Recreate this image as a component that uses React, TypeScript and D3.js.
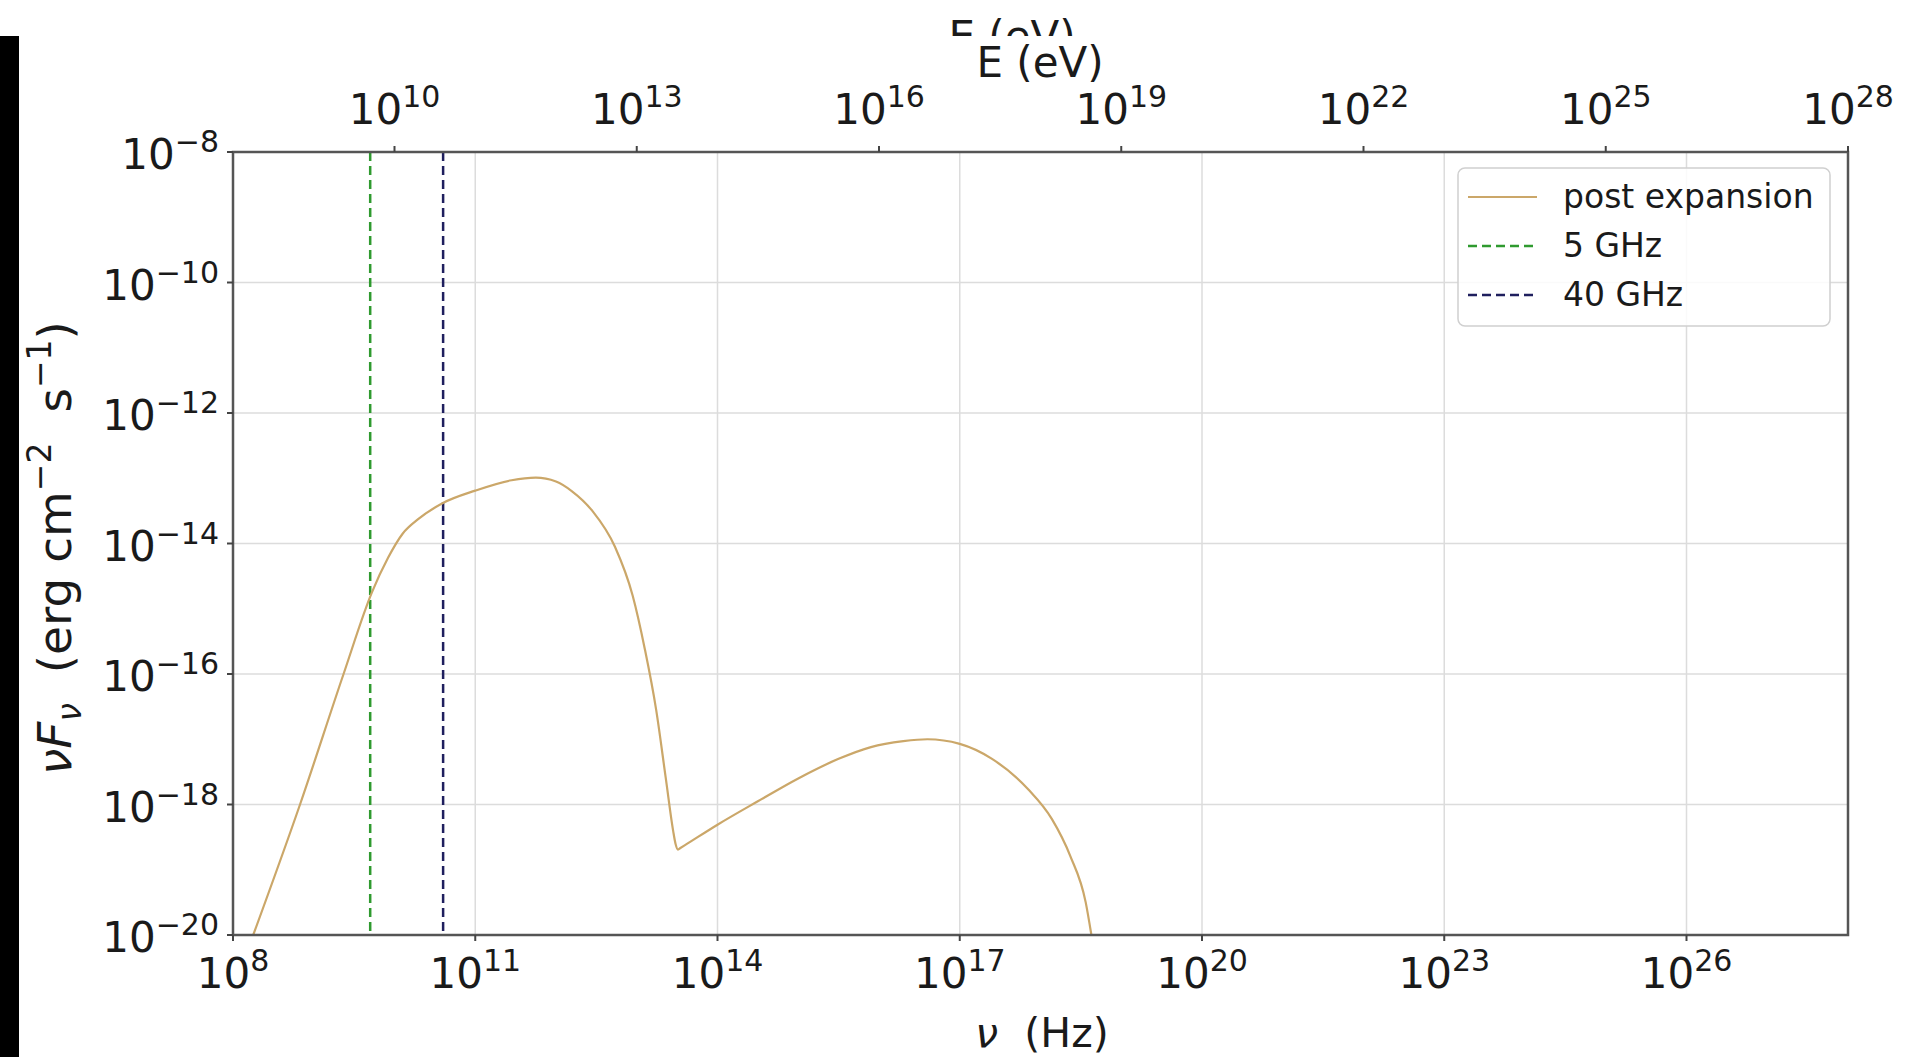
import React from "react";
import * as d3 from "d3";

// Frequency (Hz) and nuF_nu (erg cm^-2 s^-1)
const nuHz = [
  1.78e8, 6.76e8, 2.34e9, 5.25e9, 8.32e9, 1.26e10, 2.0e10, 3.98e10, 1.0e11,
  2.82e11, 5.62e11, 1.0e12, 1.58e12, 2.82e12, 5.37e12, 8.91e12, 1.26e13,
  1.74e13, 2.29e13, 2.82e13, 3.02e13, 3.24e13, 3.47e13, 4.0e13, 1.0e14,
  3.16e14, 1.0e15, 3.16e15, 7.94e15, 2.0e16, 3.98e16, 1.0e17, 2.51e17,
  7.08e17, 1.38e18, 2.34e18, 3.63e18, 4.27e18,
];
const nuFnu = [
  1.0e-20, 1.0e-18, 1.0e-16, 1.78e-15, 6.03e-15, 1.41e-14, 2.4e-14, 4.17e-14,
  6.46e-14, 9.33e-14, 1.02e-13, 8.91e-14, 6.31e-14, 3.16e-14, 8.91e-15,
  1.58e-15, 2.4e-16, 2.82e-17, 2.51e-18, 3.98e-19, 2.51e-19, 2.04e-19,
  2.15e-19, 2.4e-19, 4.9e-19, 1.12e-18, 2.51e-18, 5.01e-18, 7.59e-18,
  9.33e-18, 1.0e-17, 8.51e-18, 5.01e-18, 1.7e-18, 6.03e-19, 1.62e-19,
  3.16e-20, 1.0e-20,
];
const markerLines = [
  { label: "5 GHz", nu: 5e9, color: "#2f9a2f" },
  { label: "40 GHz", nu: 4e10, color: "#1f1f5e" },
];
const bottomTickExp = [8, 11, 14, 17, 20, 23, 26];
const topTickExp = [10, 13, 16, 19, 22, 25, 28];
const yTickExp = [-8, -10, -12, -14, -16, -18, -20];
const curveLabel = "post expansion";
const curveColor = "#cba769";

const W = 1905;
const H = 1057;
const L = 233, R = 1848, T = 152, B = 935;

const x = d3.scaleLog().domain([1e8, 1e28]).range([L, R]);
const y = d3.scaleLog().domain([1e-20, 1e-8]).range([B, T]);

const FONT = "'DejaVu Sans', sans-serif";
const TXT = "#1a1a1a";

function Pow({ exp, ...props }: any) {
  const s = exp < 0 ? "\u2212" + Math.abs(exp) : String(exp);
  return (
    <text {...props}>
      10
      <tspan fontSize={30} dy={-17}>{s}</tspan>
    </text>
  );
}

export default function App() {
  const pts = nuHz.map((n, i) => [n, nuFnu[i]] as [number, number]);
  const line = d3
    .line<[number, number]>()
    .x((d) => x(d[0]))
    .y((d) => y(d[1]))
    .curve(d3.curveMonotoneX);

  return (
    <svg
      width={W}
      height={H}
      style={{ position: "fixed", left: 0, top: 0, background: "#fff" }}
      fontFamily={FONT}
    >
      <defs>
        <clipPath id="plot">
          <rect x={L} y={T} width={R - L} height={B - T} />
        </clipPath>
        <clipPath id="ghost">
          <rect x={0} y={0} width={W} height={36} />
        </clipPath>
      </defs>
      <rect x={0} y={0} width={W} height={H} fill="#fff" />
      <rect x={0} y={36} width={19} height={H - 36} fill="#000" />

      {/* grid */}
      {bottomTickExp.map((e) => (
        <line key={"gx" + e} x1={x(10 ** e)} x2={x(10 ** e)} y1={T} y2={B} stroke="#dcdcdc" strokeWidth={1.5} />
      ))}
      {yTickExp.map((e) => (
        <line key={"gy" + e} x1={L} x2={R} y1={y(10 ** e)} y2={y(10 ** e)} stroke="#dcdcdc" strokeWidth={1.5} />
      ))}

      {/* marker lines */}
      {markerLines.map((m) => (
        <line key={m.label} x1={x(m.nu)} x2={x(m.nu)} y1={T} y2={B} stroke={m.color} strokeWidth={2.5} strokeDasharray="9,5" />
      ))}

      {/* curve */}
      <path d={line(pts) || ""} fill="none" stroke={curveColor} strokeWidth={2.2} clipPath="url(#plot)" />

      {/* frame */}
      <rect x={L} y={T} width={R - L} height={B - T} fill="none" stroke="#555" strokeWidth={2.5} />

      {/* bottom ticks */}
      {bottomTickExp.map((e) => (
        <g key={"bt" + e}>
          <line x1={x(10 ** e)} x2={x(10 ** e)} y1={B} y2={B + 6} stroke="#444" strokeWidth={2} />
          <Pow exp={e} x={x(10 ** e)} y={B + 53} textAnchor="middle" fontSize={42} fill={TXT} />
        </g>
      ))}
      {/* top ticks */}
      {topTickExp.map((e) => (
        <g key={"tt" + e}>
          <line x1={x(10 ** e)} x2={x(10 ** e)} y1={T} y2={T - 6} stroke="#444" strokeWidth={2} />
          <Pow exp={e} x={x(10 ** e)} y={124} textAnchor="middle" fontSize={42} fill={TXT} />
        </g>
      ))}
      {/* left ticks */}
      {yTickExp.map((e) => (
        <g key={"lt" + e}>
          <line x1={L} x2={L - 6} y1={y(10 ** e)} y2={y(10 ** e)} stroke="#444" strokeWidth={2} />
          <Pow exp={e} x={219} y={y(10 ** e) + 17} textAnchor="end" fontSize={42} fill={TXT} />
        </g>
      ))}

      {/* axis labels */}
      <text x={1042} y={1047} textAnchor="middle" fontSize={41} fill={TXT}>
        <tspan fontStyle="italic">ν</tspan>
        <tspan>{"\u00a0\u00a0(Hz)"}</tspan>
      </text>
      <text x={1040} y={77} textAnchor="middle" fontSize={42} fill={TXT}>E (eV)</text>
      <text x={1012} y={51} textAnchor="middle" fontSize={42} fill={TXT} clipPath="url(#ghost)">E (eV)</text>
      <text transform="translate(71,548) rotate(-90)" textAnchor="middle" fontSize={47} fill={TXT}>
        <tspan fontStyle="italic">νF</tspan>
        <tspan fontStyle="italic" fontSize={33} dy={10}>ν</tspan>
        <tspan dy={-10}>{"\u00a0\u00a0(erg cm"}</tspan>
        <tspan fontSize={33} dy={-20}>{"\u22122"}</tspan>
        <tspan dy={20}>{"\u00a0\u00a0s"}</tspan>
        <tspan fontSize={33} dy={-20}>{"\u22121"}</tspan>
        <tspan dy={20}>)</tspan>
      </text>

      {/* legend */}
      <rect x={1458} y={168} width={372} height={158} rx={7} fill="#fff" fillOpacity={0.85} stroke="#d0d0d0" strokeWidth={1.5} />
      <line x1={1468} x2={1537} y1={197} y2={197} stroke={curveColor} strokeWidth={2.2} />
      <text x={1563} y={208} fontSize={33} fill={TXT}>{curveLabel}</text>
      {markerLines.map((m, i) => (
        <g key={"lg" + m.label}>
          <line x1={1468} x2={1537} y1={246 + i * 49} y2={246 + i * 49} stroke={m.color} strokeWidth={2.5} strokeDasharray="9,5" />
          <text x={1563} y={257 + i * 49} fontSize={33} fill={TXT}>{m.label}</text>
        </g>
      ))}
    </svg>
  );
}
